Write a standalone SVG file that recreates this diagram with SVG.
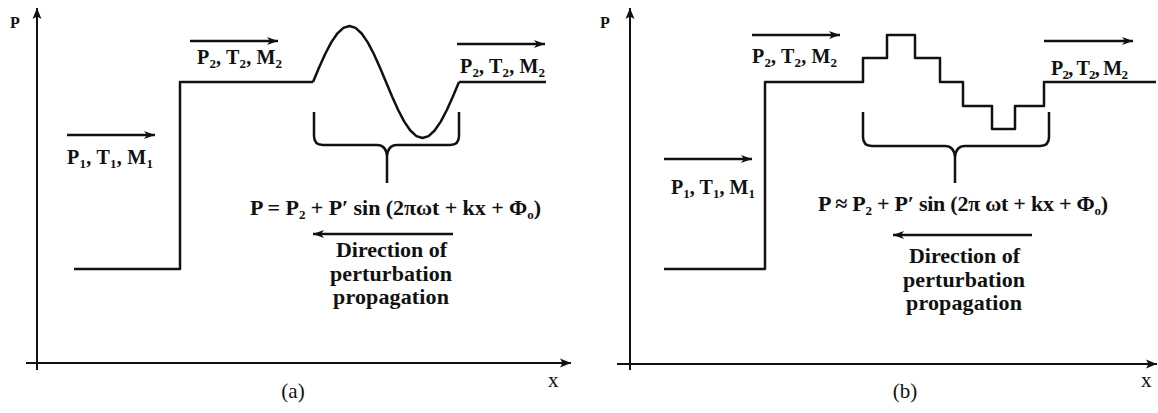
<svg xmlns="http://www.w3.org/2000/svg" width="1158" height="413" viewBox="0 0 1158 413">
<style>
.ln{fill:none;stroke:#111;stroke-width:2.5;stroke-linejoin:round;stroke-linecap:butt}
.ax{fill:none;stroke:#111;stroke-width:2}
.t{font-family:"Liberation Serif",serif;font-weight:bold;font-size:20px;fill:#111}
.b{font-size:22px}
.s{font-size:13px}
.r{font-family:"Liberation Serif",serif;font-size:21px;fill:#111}
</style>
<defs>
<marker id="ah" markerWidth="12" markerHeight="10" refX="11" refY="5" orient="auto" markerUnits="userSpaceOnUse">
<path d="M0,1 L11,5 L0,9 L3,5 Z" fill="#111"/>
</marker>
<marker id="axh" markerWidth="12" markerHeight="12" refX="11" refY="6" orient="auto" markerUnits="userSpaceOnUse">
<path d="M0,1.5 L11,6 L0,10.5 L2.5,6 Z" fill="#111"/>
</marker>
</defs>
<rect width="1158" height="413" fill="#fff"/>

<!-- Panel (a) -->
<g id="panel-a">
<g id="axes-a">
<line class="ax" x1="37" y1="370" x2="37" y2="8" marker-end="url(#axh)"/>
<line class="ax" x1="26" y1="363" x2="571" y2="363" marker-end="url(#axh)"/>
<text class="t" x="10" y="28" style="font-size:16px">P</text>
<text class="r" x="548" y="387">x</text>
<text class="r" x="293" y="398" text-anchor="middle">(a)</text>
</g>
<g id="profile-a">
<path class="ln" d="M74,269 H180 V82 H313"/>
<polyline class="ln" points="313,82 319.08,67.51 325.17,54 331.25,42.4 337.33,33.5 343.42,27.91 349.5,26 355.58,27.91 361.67,33.5 367.75,42.4 373.83,54 379.92,67.51 386,82 392.08,96.49 398.17,110 404.25,121.6 410.33,130.5 416.42,136.09 422.5,138 428.58,136.09 434.67,130.5 440.75,121.6 446.83,110 452.92,96.49 459,82"/>
<path class="ln" d="M459,82 H546"/>
</g>
<g id="brace-a">
<path class="ln" d="M314,112 V136 Q314,145 323,145 H377 Q386,145 387,156 V183 M387,156 Q388,145 397,145 H450 Q459,145 459,136 V112"/>
</g>
<g id="label-a-1">
<text class="t" x="67" y="164" textLength="86">P<tspan class="s" dy="4">1</tspan><tspan dy="-4">, T</tspan><tspan class="s" dy="4">1</tspan><tspan dy="-4">, M</tspan><tspan class="s" dy="4">1</tspan></text>
</g>
<g id="label-a-2">
<text class="t" x="197" y="64" textLength="85">P<tspan class="s" dy="4">2</tspan><tspan dy="-4">, T</tspan><tspan class="s" dy="4">2</tspan><tspan dy="-4">, M</tspan><tspan class="s" dy="4">2</tspan></text>
</g>
<g id="label-a-3">
<text class="t" x="460" y="73" textLength="85">P<tspan class="s" dy="4">2</tspan><tspan dy="-4">, T</tspan><tspan class="s" dy="4">2</tspan><tspan dy="-4">, M</tspan><tspan class="s" dy="4">2</tspan></text>
</g>
<g id="formula-a">
<text class="t b" x="250" y="215" textLength="291">P = P<tspan class="s" dy="4">2</tspan><tspan dy="-4"> + P′ sin (2πωt + kx +  Φ</tspan><tspan class="s" dy="4">o</tspan><tspan dy="-4">)</tspan></text>
</g>
<g id="direction-a">
<text class="t b" x="336" y="257" textLength="111">Direction of</text>
<text class="t b" x="330" y="281" textLength="122">perturbation</text>
<text class="t b" x="333" y="304" textLength="116">propagation</text>
</g>
</g>

<!-- Panel (b) -->
<g id="panel-b">
<g id="axes-b">
<line class="ax" x1="630" y1="370" x2="630" y2="8" marker-end="url(#axh)"/>
<line class="ax" x1="617" y1="364" x2="1157" y2="364" marker-end="url(#axh)"/>
<text class="t" x="600" y="28" style="font-size:16px">P</text>
<text class="r" x="1141" y="387">x</text>
<text class="r" x="905" y="398" text-anchor="middle">(b)</text>
</g>
<g id="profile-b">
<path class="ln" d="M664,269 H765 V82 H863 V58 H887 V35 H915 V58 H940 V82 H963 V106 H992 V129 H1015 V106 H1044 V82 H1156"/>
</g>
<g id="brace-b">
<path class="ln" d="M863,112 V137 Q863,146 872,146 H945 Q954,146 955,157 V183 M955,157 Q956,146 965,146 H1040 Q1049,146 1049,137 V112"/>
</g>
<g id="label-b-1">
<text class="t" x="671" y="194" textLength="84">P<tspan class="s" dy="4">1</tspan><tspan dy="-4">, T</tspan><tspan class="s" dy="4">1</tspan><tspan dy="-4">, M</tspan><tspan class="s" dy="4">1</tspan></text>
</g>
<g id="label-b-2">
<text class="t" x="752" y="63" textLength="85">P<tspan class="s" dy="4">2</tspan><tspan dy="-4">, T</tspan><tspan class="s" dy="4">2</tspan><tspan dy="-4">, M</tspan><tspan class="s" dy="4">2</tspan></text>
</g>
<g id="label-b-3">
<text class="t" x="1051" y="75" textLength="77">P<tspan class="s" dy="4">2</tspan><tspan dy="-4">, T</tspan><tspan class="s" dy="4">2</tspan><tspan dy="-4">, M</tspan><tspan class="s" dy="4">2</tspan></text>
</g>
<g id="formula-b">
<text class="t b" x="818" y="211" textLength="290">P ≈ P<tspan class="s" dy="4">2</tspan><tspan dy="-4"> + P′ sin (2π ωt + kx + Φ</tspan><tspan class="s" dy="4">o</tspan><tspan dy="-4">)</tspan></text>
</g>
<g id="direction-b">
<text class="t b" x="909" y="263" textLength="111">Direction of</text>
<text class="t b" x="903" y="287" textLength="122">perturbation</text>
<text class="t b" x="906" y="310" textLength="116">propagation</text>
</g>
</g>

<!-- connectors (flow arrows) -->
<g id="connectors">
<line class="ln" x1="67" y1="135" x2="155" y2="135" marker-end="url(#ah)"/>
<line class="ln" x1="190" y1="41" x2="278" y2="41" marker-end="url(#ah)"/>
<line class="ln" x1="457" y1="44" x2="545" y2="44" marker-end="url(#ah)"/>
<line class="ln" x1="453" y1="234" x2="313" y2="234" marker-end="url(#ah)"/>
<line class="ln" x1="664" y1="159" x2="752" y2="159" marker-end="url(#ah)"/>
<line class="ln" x1="752" y1="35" x2="840" y2="35" marker-end="url(#ah)"/>
<line class="ln" x1="1044" y1="41" x2="1133" y2="41" marker-end="url(#ah)"/>
<line class="ln" x1="1032" y1="235" x2="893" y2="235" marker-end="url(#ah)"/>
</g>
</svg>
